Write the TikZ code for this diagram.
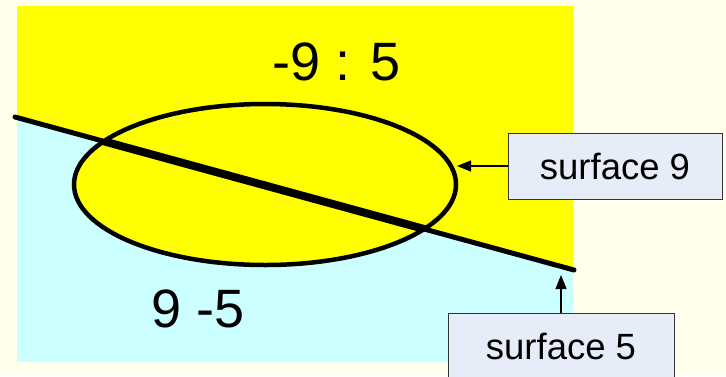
\documentclass[tikz,border=0pt]{standalone}
\usepackage{fontspec}
\setmainfont{Liberation Sans}
\usetikzlibrary{arrows.meta,shapes.geometric}
\definecolor{bgcream}{HTML}{FFFFEB}
\definecolor{upyellow}{HTML}{FFFF00}
\definecolor{lowcyan}{HTML}{CCFFFF}
\definecolor{boxfill}{HTML}{E6ECF8}
\definecolor{boxline}{HTML}{333333}
\tikzset{
  labelbox/.style={draw=boxline, line width=1pt, fill=boxfill, rectangle,
    minimum width=#1, minimum height=66pt, inner sep=0pt,
    font=\fontsize{36.5}{36.5}\selectfont},
  bigtext/.style={font=\fontsize{54}{54}\selectfont, anchor=base, inner sep=0pt},
  pointer/.style={line width=1.2pt, -{Triangle[length=14pt,width=11pt]}},
  surfline/.style={line width=5pt, line cap=round},
}
\begin{document}
\begin{tikzpicture}[x=1pt,y=-1pt]
\useasboundingbox (0,0) rectangle (726,376);
\clip (0,0) rectangle (726,376);
\fill[bgcream] (0,0) rectangle (726,376);
% regions
\fill[upyellow] (17,6) rectangle (573,362);
\fill[lowcyan] (17,117.5) -- (573,269.7) -- (573,362) -- (17,362) -- cycle;
% ellipse
\node[ellipse, draw, line width=4.5pt, fill=upyellow, minimum width=382pt, minimum height=161pt, inner sep=0pt] (ell) at (265,184.5) {};
% line
\coordinate (la) at (15,117);
\coordinate (lb) at (574,270);
\draw[surfline] (la) -- (lb);
\begin{scope}
  \clip (265,184.5) ellipse [x radius=191, y radius=80.5];
  \draw[line width=8pt] (la) -- (lb);
\end{scope}
% texts
\node[bigtext] (t1) at (337,80) {-9 : 5};
\node[bigtext] (t2) at (198,327) {9 -5};
% boxes
\node[labelbox=214pt] (s9) at (615,166) {surface 9};
\node[labelbox=226pt] (s5) at (561,346) {surface 5};
\coordinate (p9) at (457,166);
\coordinate (p5) at (561,275);
\draw[pointer] (s9.west) -- (p9);
\draw[pointer] (s5.north) -- (p5);
\end{tikzpicture}
\end{document}
